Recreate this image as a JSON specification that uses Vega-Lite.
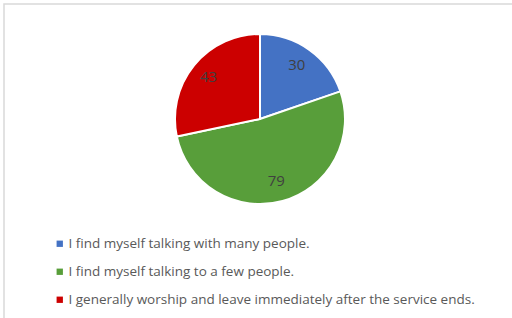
{
  "$schema": "https://vega.github.io/schema/vega-lite/v6.json",
  "autosize": "none",
  "padding": {"left": 4, "top": 4, "right": 0, "bottom": 0},
  "width": 510,
  "height": 316,
  "background": "white",
  "view": {"stroke": "#d9d9d9", "strokeWidth": 1.5},
  "config": {"view": {"stroke": "#d9d9d9", "strokeWidth": 1.5}},
  "data": {"values": [
    {"i": 1, "label": "I find myself talking with many people.", "value": 30},
    {"i": 2, "label": "I find myself talking to a few people.", "value": 79},
    {"i": 3, "label": "I generally worship and leave immediately after the service ends.", "value": 43}
  ]},
  "encoding": {
    "theta": {"field": "value", "type": "quantitative", "stack": true},
    "order": {"field": "i", "type": "quantitative"},
    "color": {
      "field": "label", "type": "nominal",
      "scale": {
        "domain": ["I find myself talking with many people.", "I find myself talking to a few people.", "I generally worship and leave immediately after the service ends."],
        "range": ["#4472C4", "#589E3A", "#CC0000"]
      },
      "legend": {
        "title": null,
        "orient": "none",
        "legendX": 49,
        "legendY": 233,
        "symbolType": "square",
        "symbolSize": 40,
        "symbolStrokeWidth": 0,
        "labelFont": "Open Sans",
        "labelFontSize": 13.5,
        "labelColor": "#595959",
        "rowPadding": 13,
        "labelLimit": 500,
        "labelOffset": 2
      }
    }
  },
  "layer": [
    {"mark": {"type": "arc", "outerRadius": 85, "x": 256, "y": 115, "stroke": "white", "strokeWidth": 2}},
    {"mark": {"type": "text", "radius": 65, "x": 255, "y": 114, "font": "Open Sans", "fontSize": 15, "fill": "#404040"},
     "encoding": {"text": {"field": "value", "type": "quantitative"}, "color": {"value": "#404040"}}}
  ]
}
